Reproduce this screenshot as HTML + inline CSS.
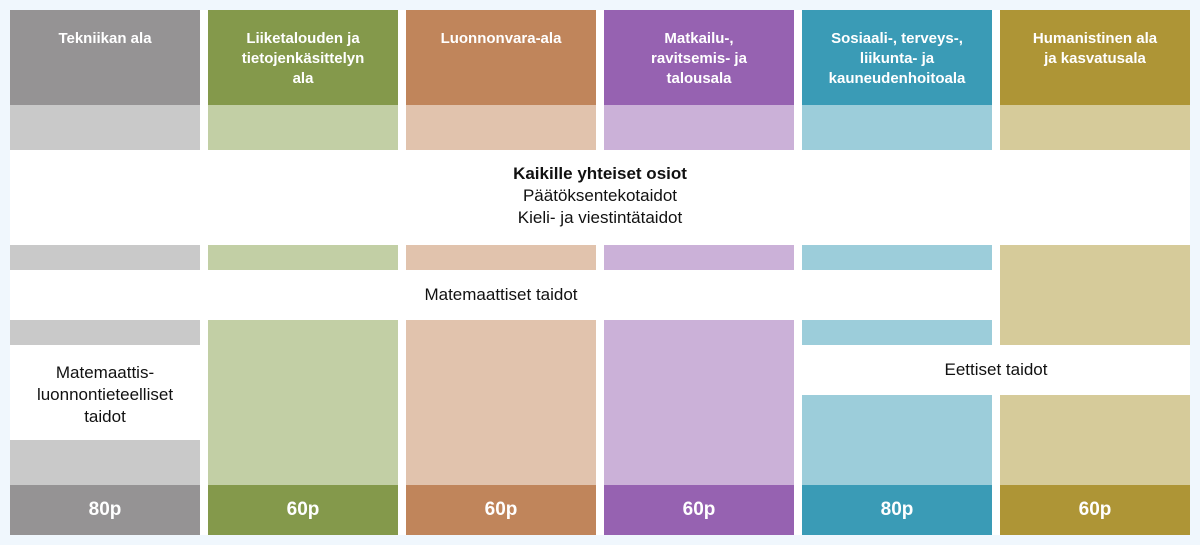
<!DOCTYPE html>
<html><head><meta charset="utf-8"><style>
body{margin:0;width:1200px;height:545px;background:#f0f7fd;font-family:"Liberation Sans",sans-serif;position:relative;overflow:hidden}
.a{position:absolute}
#w{left:10px;top:10px;width:1180px;height:525px;background:#fff}
.h{color:#fff;font-weight:bold;font-size:15px;text-align:center;line-height:20px;padding-top:19px;box-sizing:border-box;height:95px;top:10px}
.f{color:#fff;font-weight:bold;font-size:19px;text-align:center;line-height:50px;top:485px;height:50px}
.t{color:#111;text-align:center;font-size:17px}
</style></head><body>
<div class="a" id="w"></div>
<div id="c"></div>
<div class="a t" style="left:10px;top:163px;width:1180px;line-height:22px"><b>Kaikille yhteiset osiot</b><br>Päätöksentekotaidot<br>Kieli- ja viestintätaidot</div>
<div class="a t" style="left:10px;top:284px;width:982px;line-height:22px">Matemaattiset taidot</div>
<div class="a t" style="left:10px;top:362px;width:190px;line-height:22px">Matemaattis-<br>luonnontieteelliset<br>taidot</div>
<div class="a t" style="left:802px;top:359px;width:388px;line-height:22px">Eettiset taidot</div>
<script>
const names=["Tekniikan ala","Liiketalouden ja<br>tietojenkäsittelyn<br>ala","Luonnonvara-ala","Matkailu-,<br>ravitsemis- ja<br>talousala","Sosiaali-, terveys-,<br>liikunta- ja<br>kauneudenhoitoala","Humanistinen ala<br>ja kasvatusala"];
const points=["80p","60p","60p","60p","80p","60p"];
const dark=["#959394","#84994b","#c0855b","#9662b1","#3a9bb6","#ae9536"];
const light=["#c9c9c9","#c2cfa5","#e1c3ad","#cbb1d8","#9ccdda","#d6cb9a"];
// light segments per column [top,bottom]
const segs=[[[105,150],[245,270],[320,345],[440,485]],[[105,150],[245,270],[320,485]],[[105,150],[245,270],[320,485]],[[105,150],[245,270],[320,485]],[[105,150],[245,270],[320,345],[395,485]],[[105,150],[245,345],[395,485]]];
const c=document.getElementById('c');
names.forEach((n,i)=>{
 const x=10+i*198;
 const h=document.createElement('div');h.className='a h';
 
 
 h.style.cssText=`left:${x}px;width:190px;background:${dark[i]}`;h.innerHTML=n;c.appendChild(h);
 segs[i].forEach(s=>{const d=document.createElement('div');d.className='a';
 
 
 d.style.cssText=`left:${x}px;width:190px;top:${s[0]}px;height:${s[1]-s[0]}px;background:${light[i]}`;c.appendChild(d);});
 const f=document.createElement('div');f.className='a f';
 
 
 f.style.cssText=`left:${x}px;width:190px;background:${dark[i]}`;f.textContent=points[i];c.appendChild(f);
});
</script>
</body></html>
